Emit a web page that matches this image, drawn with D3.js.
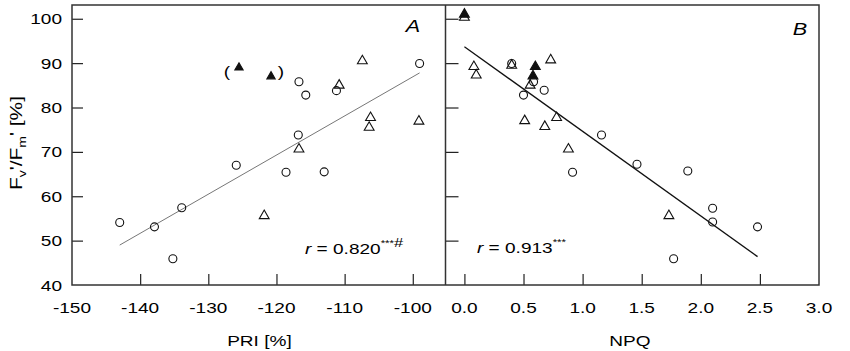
<!DOCTYPE html>
<meta charset="utf-8">
<head>
  <meta charset="UTF-8" />
  <title>Fv'/Fm' vs PRI and NPQ</title>
  <script src="https://d3js.org/d3.v7.min.js"></script>
</head>
<style>
  body { margin: 0; background: #fff; }
  text { font-family: "Liberation Sans", Arial, sans-serif; fill: #000; }
</style>
<body>
<div id="chart"></div>

<script>
  // panel A: PRI [%] vs Fv'/Fm' [%]
  var priCircle   = [-143.0, -137.9, -133.9, -135.2, -125.9, -118.6, -116.8, -116.7, -115.7, -113.0, -111.2, -99.0]
  var fvCircleA   = [54.1, 53.1, 57.4, 45.9, 67.0, 65.4, 73.8, 85.8, 82.8, 65.5, 83.8, 89.9]
  var priTri      = [-121.8, -116.7, -110.8, -107.4, -106.2, -106.4, -99.1]
  var fvTriA      = [55.6, 70.6, 85.0, 90.5, 77.7, 75.5, 76.9]
  var priFilled   = [-125.5, -120.8]
  var fvFilledA   = [89.0, 87.0]
  var fitPri      = [-143, -99]
  var fitFvA      = [49.0, 87.8]

  // panel B: NPQ vs Fv'/Fm' [%]
  var npqCircle   = [0.40, 0.585, 0.50, 0.675, 1.16, 1.46, 0.915, 1.89, 2.10, 2.10, 2.48, 1.77]
  var fvCircleB   = [89.9, 85.8, 82.8, 83.9, 73.8, 67.2, 65.4, 65.7, 57.3, 54.2, 53.1, 45.9]
  var npqTri      = [0.0, 0.08, 0.10, 0.40, 0.556, 0.73, 0.51, 0.78, 0.68, 0.88, 1.73]
  var fvTriB      = [100.3, 89.2, 87.3, 89.5, 85.0, 90.7, 77.0, 77.7, 75.7, 70.6, 55.6]
  var npqFilled   = [0.0, 0.60, 0.58]
  var fvFilledB   = [101.0, 89.2, 87.1]
  var fitNpq      = [0, 2.48]
  var fitFvB      = [93.7, 46.4]

  var priTicks = [-150, -140, -130, -120, -110, -100]
  var npqTicks = [0.0, 0.5, 1.0, 1.5, 2.0, 2.5, 3.0]
  var fvTicks  = [40, 50, 60, 70, 80, 90, 100]

  var width = 850, height = 351
  var frameL = 72, frameM = 445.5, frameR = 819, frameT = 5, frameB = 285
  var stretch = 1.27   // the original lettering is wide

  var svg = d3.select("#chart").append("svg")
      .attr("width", width)
      .attr("height", height)

  var xA = d3.scaleLinear().domain([-150, -95.2]).range([frameL, frameM])
  var xB = d3.scaleLinear().domain([-0.16, 3.0]).range([frameM, frameR])
  var y  = d3.scaleLinear().domain([40, 103.1]).range([frameB, frameT])

  function label(x, yy, str, size, anchor) {
    return svg.append("text")
      .attr("transform", "translate(" + x + "," + yy + ") scale(" + stretch + ",1)")
      .attr("text-anchor", anchor || "middle")
      .style("font-size", size + "px")
      .text(str)
  }

  // inward tick marks
  function ticks(g, axis) {
    g.call(axis)
    g.select(".domain").remove()
    g.selectAll("line").attr("stroke", "#222").attr("stroke-width", 1.2)
  }
  ticks(svg.append("g").attr("transform", "translate(0," + frameB + ")"),
        d3.axisBottom(xA).tickValues(priTicks.slice(1)).tickSize(-11).tickFormat(""))
  ticks(svg.append("g").attr("transform", "translate(0," + frameB + ")"),
        d3.axisBottom(xB).tickValues(npqTicks.slice(0, -1)).tickSize(-11).tickFormat(""))
  ticks(svg.append("g").attr("transform", "translate(" + frameL + ",0)"),
        d3.axisLeft(y).tickValues(fvTicks.slice(1)).tickSize(-11).tickFormat(""))
  ticks(svg.append("g").attr("transform", "translate(" + frameM + ",0)"),
        d3.axisLeft(y).tickValues(fvTicks.slice(1)).tickSize(-13).tickFormat(""))

  // frame
  svg.append("rect")
    .attr("x", frameL).attr("y", frameT)
    .attr("width", frameR - frameL).attr("height", frameB - frameT)
    .attr("fill", "none").attr("stroke", "#333").attr("stroke-width", 1.5)
  svg.append("line")
    .attr("x1", frameM).attr("x2", frameM).attr("y1", frameT).attr("y2", frameB)
    .attr("stroke", "#333").attr("stroke-width", 1.5)

  // tick labels
  priTicks.forEach(t => label(xA(t), 313, String(t), 15))
  npqTicks.forEach(t => label(xB(t), 313, t.toFixed(1), 15))
  fvTicks.forEach(t => label(62, y(t) + 5.5, t, 15, "end"))

  // axis titles
  label(xA(-122.5), 346, "PRI [%]", 15)
  label(xB(1.4), 346, "NPQ", 15)
  var yt = svg.append("text")
    .attr("transform", "translate(22,143) rotate(-90) scale(" + stretch + ",1)")
    .attr("text-anchor", "middle")
    .style("font-size", "16.5px")
  yt.append("tspan").text("F")
  yt.append("tspan").text("v").style("font-size", "11px").attr("dy", 4)
  yt.append("tspan").text("'/F").attr("dy", -4)
  yt.append("tspan").text("m").style("font-size", "11px").attr("dy", 4)
  yt.append("tspan").text("' [%]").attr("dy", -4)

  // regression lines
  var line = d3.line()
  svg.append("path")
    .attr("d", line(fitPri.map((v, i) => [xA(v), y(fitFvA[i])])))
    .attr("stroke", "#777").attr("stroke-width", 1).attr("fill", "none")
  svg.append("path")
    .attr("d", line(fitNpq.map((v, i) => [xB(v), y(fitFvB[i])])))
    .attr("stroke", "#111").attr("stroke-width", 1.3).attr("fill", "none")

  // markers
  var tri = d3.symbol().type(d3.symbolTriangle).size(42)
  var triSmall = d3.symbol().type(d3.symbolTriangle).size(30)

  function circles(xs, ys, xScale) {
    svg.append("g").selectAll("circle")
      .data(xs.map((v, i) => [v, ys[i]]))
      .join("circle")
        .attr("cx", d => xScale(d[0]))
        .attr("cy", d => y(d[1]))
        .attr("r", 4)
        .attr("fill", "none")
        .attr("stroke", "#111")
        .attr("stroke-width", 1.1)
  }
  function triangles(xs, ys, xScale, filled, sym) {
    svg.append("g").selectAll("path")
      .data(xs.map((v, i) => [v, ys[i]]))
      .join("path")
        .attr("transform", d => "translate(" + xScale(d[0]) + "," + y(d[1]) + ")")
        .attr("d", sym)
        .attr("fill", filled ? "#111" : "none")
        .attr("stroke", "#111")
        .attr("stroke-width", 1.1)
  }

  circles(priCircle, fvCircleA, xA)
  triangles(priTri, fvTriA, xA, false, tri)
  triangles(priFilled, fvFilledA, xA, true, triSmall)

  circles(npqCircle, fvCircleB, xB)
  triangles(npqTri, fvTriB, xB, false, tri)
  triangles(npqFilled, fvFilledB, xB, true, tri)

  // brackets round the excluded points
  label(227, 77, "(", 15)
  label(281, 77, ")", 15)

  // panel letters
  label(413, 32, "A", 17).style("font-style", "italic")
  label(800, 35, "B", 17).style("font-style", "italic")

  // correlation notes
  function rNote(x, yy, value, hash) {
    var t = svg.append("text")
      .attr("transform", "translate(" + x + "," + yy + ") scale(" + stretch + ",1)")
      .style("font-size", "15px")
    t.append("tspan").text("r").style("font-style", "italic")
    t.append("tspan").text(" = " + value)
    t.append("tspan").text("***").style("font-size", "9px").attr("dy", -8)
    if (hash) t.append("tspan").text("#").style("font-size", "13px").attr("dy", 1)
  }
  rNote(305, 254, "0.820", true)
  rNote(477, 253, "0.913", false)
</script>
</body>
